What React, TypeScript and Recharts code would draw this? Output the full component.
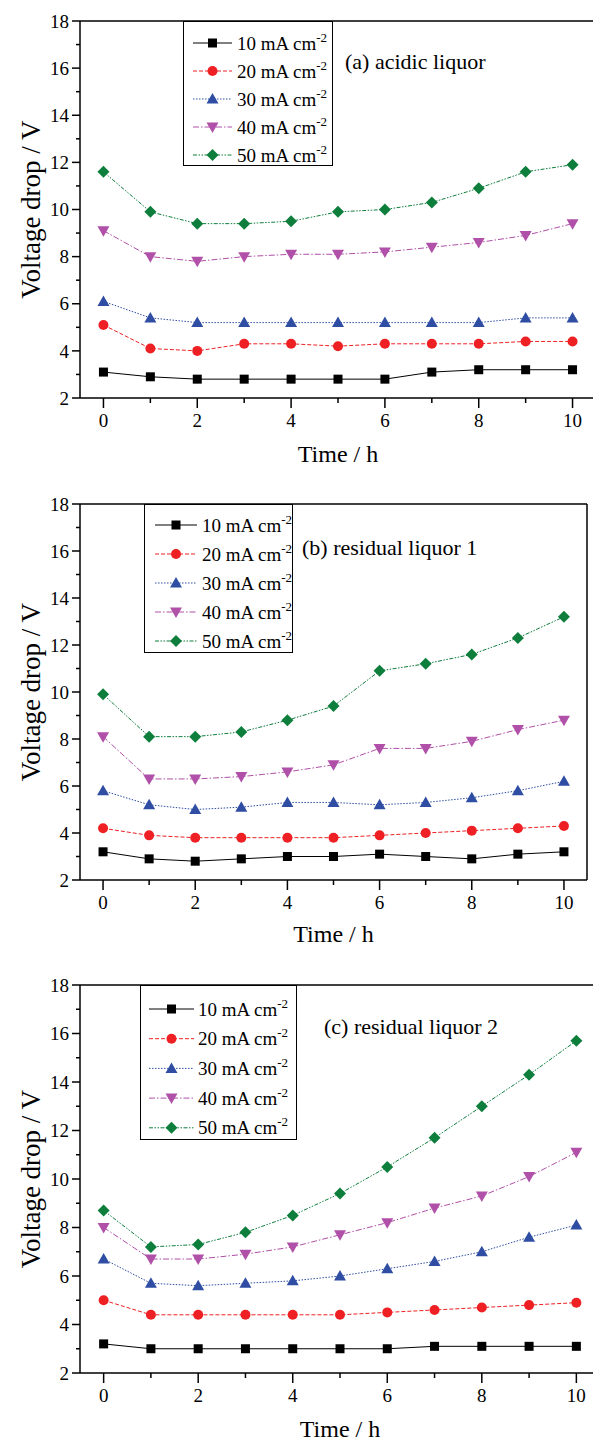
import { LineChart, Line, XAxis, YAxis, Legend, ReferenceLine } from "recharts";

// Temps (h) et graduations
const hours = [0, 1, 2, 3, 4, 5, 6, 7, 8, 9, 10];
const xTicks = [0, 1, 2, 3, 4, 5, 6, 7, 8, 9, 10];
const yTicks = [2, 3, 4, 5, 6, 7, 8, 9, 10, 11, 12, 13, 14, 15, 16, 17, 18];
const densities = ["10", "20", "30", "40", "50"];

// (a) acidic liquor
const acidic10 = [3.1, 2.9, 2.8, 2.8, 2.8, 2.8, 2.8, 3.1, 3.2, 3.2, 3.2];
const acidic20 = [5.1, 4.1, 4.0, 4.3, 4.3, 4.2, 4.3, 4.3, 4.3, 4.4, 4.4];
const acidic30 = [6.1, 5.4, 5.2, 5.2, 5.2, 5.2, 5.2, 5.2, 5.2, 5.4, 5.4];
const acidic40 = [9.1, 8.0, 7.8, 8.0, 8.1, 8.1, 8.2, 8.4, 8.6, 8.9, 9.4];
const acidic50 = [11.6, 9.9, 9.4, 9.4, 9.5, 9.9, 10.0, 10.3, 10.9, 11.6, 11.9];

// (b) residual liquor 1
const res1_10 = [3.2, 2.9, 2.8, 2.9, 3.0, 3.0, 3.1, 3.0, 2.9, 3.1, 3.2];
const res1_20 = [4.2, 3.9, 3.8, 3.8, 3.8, 3.8, 3.9, 4.0, 4.1, 4.2, 4.3];
const res1_30 = [5.8, 5.2, 5.0, 5.1, 5.3, 5.3, 5.2, 5.3, 5.5, 5.8, 6.2];
const res1_40 = [8.1, 6.3, 6.3, 6.4, 6.6, 6.9, 7.6, 7.6, 7.9, 8.4, 8.8];
const res1_50 = [9.9, 8.1, 8.1, 8.3, 8.8, 9.4, 10.9, 11.2, 11.6, 12.3, 13.2];

// (c) residual liquor 2
const res2_10 = [3.2, 3.0, 3.0, 3.0, 3.0, 3.0, 3.0, 3.1, 3.1, 3.1, 3.1];
const res2_20 = [5.0, 4.4, 4.4, 4.4, 4.4, 4.4, 4.5, 4.6, 4.7, 4.8, 4.9];
const res2_30 = [6.7, 5.7, 5.6, 5.7, 5.8, 6.0, 6.3, 6.6, 7.0, 7.6, 8.1];
const res2_40 = [8.0, 6.7, 6.7, 6.9, 7.2, 7.7, 8.2, 8.8, 9.3, 10.1, 11.1];
const res2_50 = [8.7, 7.2, 7.3, 7.8, 8.5, 9.4, 10.5, 11.7, 13.0, 14.3, 15.7];

const FONT = "Liberation Serif, Tinos, Nimbus Roman, Times New Roman, Times, serif";

type Shape = "square" | "circle" | "up" | "down" | "diamond";

const styles: { color: string; dash?: string; shape: Shape }[] = [
    { color: "#000000", shape: "square" },
    { color: "#ee2024", dash: "4 2", shape: "circle" },
    { color: "#2f4ea3", dash: "1.5 1.5", shape: "up" },
    { color: "#b050a8", dash: "6 2 1.5 2", shape: "down" },
    { color: "#0e7e3c", dash: "4 1.5 1.5 1.5 1.5 1.5", shape: "diamond" },
];

function marker(shape: Shape, cx: number, cy: number, color: string, key?: string) {
    // Dessine le symbole d'une série
    switch (shape) {
        case "square":
            return <rect key={key} x={cx - 4.5} y={cy - 4.5} width={9} height={9} fill={color} />;
        case "circle":
            return <circle key={key} cx={cx} cy={cy} r={5} fill={color} />;
        case "up":
            return <polygon key={key} points={`${cx},${cy - 6} ${cx + 6},${cy + 4.5} ${cx - 6},${cy + 4.5}`} fill={color} />;
        case "down":
            return <polygon key={key} points={`${cx - 6},${cy - 4.5} ${cx + 6},${cy - 4.5} ${cx},${cy + 6}`} fill={color} />;
        default:
            return <polygon key={key} points={`${cx},${cy - 6} ${cx + 6},${cy} ${cx},${cy + 6} ${cx - 6},${cy}`} fill={color} />;
    }
}

function XTick(props: any) {
    const { x, y, payload } = props;
    const major = payload.value % 2 === 0;
    return (
        <g>
            <line x1={x} x2={x} y1={y} y2={y + (major ? 10 : 5)} stroke="#000" strokeWidth={1.5} />
            {major && (
                <text x={x} y={y + 22} dy="0.35em" textAnchor="middle" style={{ fontSize: 19, fontFamily: FONT }} fill="#000">
                    {payload.value}
                </text>
            )}
        </g>
    );
}

function YTick(props: any) {
    const { x, y, payload } = props;
    const major = payload.value % 2 === 0;
    return (
        <g>
            <line x1={x - (major ? 8 : 4)} x2={x} y1={y} y2={y} stroke="#000" strokeWidth={1.5} />
            {major && (
                <text x={x - 11} y={y} dy="0.35em" textAnchor="end" style={{ fontSize: 19, fontFamily: FONT }} fill="#000">
                    {payload.value}
                </text>
            )}
        </g>
    );
}

type LegendBox = { width: number; height: number; rowTop: number; rowGap: number; x1: number; x2: number; tx: number };

function LegendContent({ box }: { box: LegendBox }) {
    const mx = (box.x1 + box.x2) / 2;
    return (
        <svg width={box.width + 2} height={box.height + 2} style={{ display: "block" }}>
            <rect x={0.5} y={0.5} width={box.width} height={box.height} fill="#fff" stroke="#000" strokeWidth={1} />
            {densities.map((d, i) => {
                const yy = box.rowTop + i * box.rowGap;
                const st = styles[i];
                return (
                    <g key={d}>
                        <line x1={box.x1} x2={box.x2} y1={yy} y2={yy} stroke={st.color} strokeWidth={1} strokeDasharray={st.dash} />
                        {marker(st.shape, mx, yy, st.color)}
                        <text x={box.tx} y={yy} dy="0.35em" style={{ fontSize: 19, fontFamily: FONT }} fill="#000">
                            {d} mA cm
                            <tspan dy={-8} style={{ fontSize: 13 }}>-2</tspan>
                        </text>
                    </g>
                );
            })}
        </svg>
    );
}

type Panel = {
    title: string;
    series: number[][];
    top: number;
    width: number;
    right: number;
    plotHeight: number;
    xAxisHeight: number;
    legendLeft: number;
    legend: LegendBox;
    titleX: number;
    titleY: number;
};

const panels: Panel[] = [
    {
        title: "(a) acidic liquor",
        series: [acidic10, acidic20, acidic30, acidic40, acidic50],
        top: 0, width: 600, right: 4, plotHeight: 377, xAxisHeight: 110,
        legendLeft: 183,
        legend: { width: 149, height: 144, rowTop: 22, rowGap: 28, x1: 10, x2: 49, tx: 54 },
        titleX: 345, titleY: 62,
    },
    {
        title: "(b) residual liquor 1",
        series: [res1_10, res1_20, res1_30, res1_40, res1_50],
        top: 483, width: 600, right: 13, plotHeight: 376, xAxisHeight: 106,
        legendLeft: 144,
        legend: { width: 148, height: 148, rowTop: 21, rowGap: 29, x1: 11, x2: 53, tx: 58 },
        titleX: 302, titleY: 548,
    },
    {
        title: "(c) residual liquor 2",
        series: [res2_10, res2_20, res2_30, res2_40, res2_50],
        top: 964, width: 604, right: 4, plotHeight: 388, xAxisHeight: 110,
        legendLeft: 140,
        legend: { width: 156, height: 154, rowTop: 24, rowGap: 29.7, x1: 9, x2: 54, tx: 58 },
        titleX: 324, titleY: 1027,
    },
];

function VoltagePanel({ p }: { p: Panel }) {
    const data = hours.map((h, i) => {
        const row: Record<string, number> = { h };
        densities.forEach((d, k) => (row["s" + d] = p.series[k][i]));
        return row;
    });
    const marginTop = 21;
    return (
        <div style={{ position: "absolute", left: 0, top: p.top }}>
            <LineChart
                width={p.width}
                height={marginTop + p.plotHeight + p.xAxisHeight}
                data={data}
                margin={{ top: marginTop, right: p.right, bottom: 0, left: 0 }}
            >
                <XAxis
                    dataKey="h"
                    type="number"
                    domain={[-0.5, 10.5]}
                    ticks={xTicks}
                    interval={0}
                    height={p.xAxisHeight}
                    tickSize={0}
                    tickMargin={0}
                    tickLine={false}
                    tick={<XTick />}
                    axisLine={{ stroke: "#000", strokeWidth: 1.5 }}
                    label={{ value: "Time / h", position: "center", style: { fontSize: 24, fontFamily: FONT, fill: "#000" } }}
                />
                <YAxis
                    type="number"
                    domain={[2, 18]}
                    ticks={yTicks}
                    interval={0}
                    width={80}
                    tickSize={0}
                    tickMargin={0}
                    tickLine={false}
                    tick={<YTick />}
                    axisLine={{ stroke: "#000", strokeWidth: 1.5 }}
                    label={{ value: "Voltage drop / V", angle: -90, position: "center", dx: -10, style: { fontSize: 27, fontFamily: FONT, fill: "#000", textAnchor: "middle" } }}
                />
                <ReferenceLine y={18} stroke="#000" strokeWidth={1.5} />
                <ReferenceLine x={10.5} stroke="#000" strokeWidth={1.5} />
                <Legend
                    layout="vertical"
                    align="center"
                    verticalAlign="middle"
                    wrapperStyle={{ left: p.legendLeft, top: marginTop, width: p.legend.width + 2, height: p.legend.height + 2 }}
                    content={() => <LegendContent box={p.legend} />}
                />
                {densities.map((d, k) => (
                    <Line
                        key={d}
                        type="linear"
                        dataKey={"s" + d}
                        name={d + " mA cm-2"}
                        stroke={styles[k].color}
                        strokeWidth={1}
                        strokeDasharray={styles[k].dash}
                        isAnimationActive={false}
                        dot={(props: any) => marker(styles[k].shape, props.cx, props.cy, styles[k].color, `${d}-${props.index}`)}
                        activeDot={false}
                    />
                ))}
            </LineChart>
            <div
                style={{
                    position: "absolute",
                    left: p.titleX,
                    top: p.titleY - p.top - 13,
                    fontSize: 22,
                    fontFamily: FONT,
                    lineHeight: "26px",
                    whiteSpace: "nowrap",
                    color: "#000",
                }}
            >
                {p.title}
            </div>
        </div>
    );
}

export default function App() {
    return (
        <div style={{ position: "absolute", left: 0, top: 0, width: 593, height: 1442, overflow: "hidden", background: "#fff", fontFamily: FONT }}>
            {panels.map((p) => (
                <VoltagePanel key={p.title} p={p} />
            ))}
        </div>
    );
}
